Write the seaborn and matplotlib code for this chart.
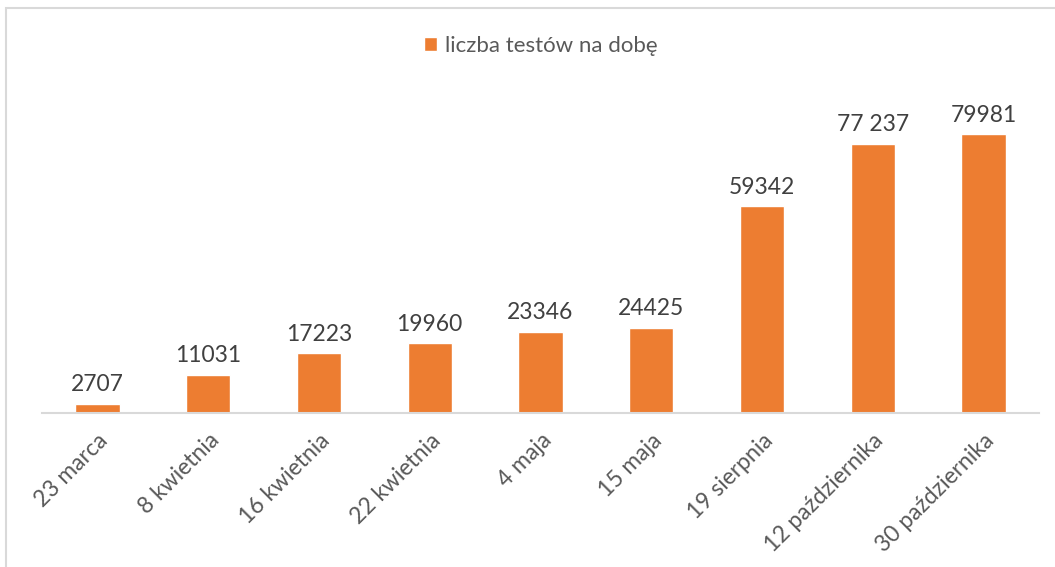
import matplotlib
matplotlib.use("Agg")
import matplotlib.pyplot as plt
import seaborn as sns
import pandas as pd
from matplotlib.patches import Rectangle

categories = ["23 marca", "8 kwietnia", "16 kwietnia", "22 kwietnia", "4 maja",
              "15 maja", "19 sierpnia", "12 października", "30 października"]
values = [2707, 11031, 17223, 19960, 23346, 24425, 59342, 77237, 79981]
value_labels = ["2707", "11031", "17223", "19960", "23346", "24425", "59342", "77 237", "79981"]
series_name = "liczba testów na dobę"

sns.set_theme(style="white")
plt.rcParams['font.family'] = ['Lato', 'DejaVu Sans']

df = pd.DataFrame({"cat": categories, "val": values, "series": series_name})

fig = plt.figure(figsize=(10.55, 5.67), dpi=100)
ax = fig.add_axes([42/1055, 1-413/567, (1039-42)/1055, (413-99)/567])

sns.barplot(data=df, x="cat", y="val", hue="series", palette=["#ED7D31"],
            width=0.4, ax=ax, legend=True, saturation=1)

ax.set_ylim(0, 90000)
ax.set_xlim(-0.5, len(categories) - 0.5)
for s in ["top", "right", "left"]:
    ax.spines[s].set_visible(False)
ax.spines["bottom"].set_color("#D9D9D9")
ax.spines["bottom"].set_linewidth(1.5)
ax.set_yticks([])
ax.set_xlabel("")
ax.set_ylabel("")
ax.tick_params(axis="x", length=0, pad=12)
for lab in ax.get_xticklabels():
    lab.set_rotation(45)
    lab.set_ha("right")
    lab.set_va("top")
    lab.set_rotation_mode("anchor")
    lab.set_fontsize(16.5)
    lab.set_color("#595959")

for i, (v, t) in enumerate(zip(values, value_labels)):
    ax.annotate(t, (i, v), xytext=(0, 6), textcoords="offset points",
                ha="center", va="bottom", fontsize=16.5, color="#404040")

leg = ax.legend(loc="center", bbox_to_anchor=(541/1055, 1-46/567),
                bbox_transform=fig.transFigure, frameon=False, fontsize=16,
                handlelength=0.6, handleheight=0.6, handletextpad=0.35)
for t in leg.get_texts():
    t.set_color("#595959")

fig.patches.append(Rectangle((6/1055, -0.1), 1.1, 1.1-8/567, transform=fig.transFigure,
                             fill=False, edgecolor="#D9D9D9", linewidth=1.5))

fig.savefig("out.png", dpi=100)
